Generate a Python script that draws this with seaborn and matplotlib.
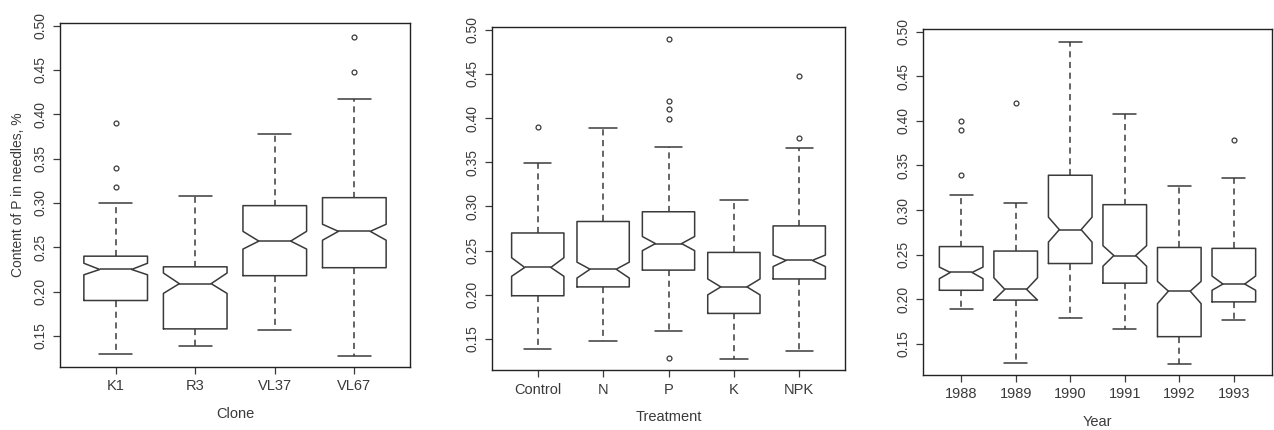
import numpy as np
import seaborn as sns
import matplotlib.pyplot as plt

# values (P content in needles, %)
clones = ["K1", "R3", "VL37", "VL67"]
clone_whislo = [0.13, 0.139, 0.157, 0.127]
clone_q1 = [0.19, 0.158, 0.218, 0.227]
clone_med = [0.225, 0.209, 0.257, 0.268]
clone_q3 = [0.24, 0.228, 0.297, 0.306]
clone_whishi = [0.30, 0.308, 0.378, 0.417]
clone_cilo = [0.219, 0.198, 0.248, 0.258]
clone_cihi = [0.232, 0.221, 0.268, 0.276]
clone_fliers = [[0.39, 0.339, 0.318], [], [], [0.487, 0.448]]

treatments = ["Control", "N", "P", "K", "NPK"]
treat_whislo = [0.139, 0.148, 0.159, 0.128, 0.137]
treat_q1 = [0.199, 0.209, 0.228, 0.179, 0.218]
treat_med = [0.231, 0.229, 0.258, 0.209, 0.239]
treat_q3 = [0.270, 0.283, 0.294, 0.248, 0.278]
treat_whishi = [0.349, 0.389, 0.367, 0.307, 0.366]
treat_cilo = [0.221, 0.219, 0.250, 0.200, 0.232]
treat_cihi = [0.242, 0.237, 0.266, 0.218, 0.245]
treat_fliers = [[0.39], [], [0.489, 0.419, 0.410, 0.399, 0.129], [], [0.448, 0.378]]

years = ["1988", "1989", "1990", "1991", "1992", "1993"]
year_whislo = [0.189, 0.128, 0.179, 0.167, 0.127, 0.177]
year_q1 = [0.210, 0.199, 0.240, 0.218, 0.158, 0.197]
year_med = [0.230, 0.211, 0.278, 0.249, 0.209, 0.217]
year_q3 = [0.259, 0.254, 0.339, 0.306, 0.258, 0.257]
year_whishi = [0.317, 0.308, 0.488, 0.408, 0.327, 0.336]
year_cilo = [0.223, 0.199, 0.264, 0.237, 0.195, 0.210]
year_cihi = [0.236, 0.224, 0.292, 0.260, 0.220, 0.226]
year_fliers = [[0.40, 0.39, 0.339], [0.42], [], [], [], [0.379]]

sns.set_style("ticks")
plt.rcParams["font.family"] = ["Liberation Sans", "DejaVu Sans"]

ink = "#3a3a3a"


def make_stats(lo, q1, med, q3, hi, cilo, cihi, fl):
    out = []
    for i in range(len(med)):
        out.append(dict(whislo=lo[i], q1=q1[i], med=med[i], q3=q3[i], whishi=hi[i],
                        cilo=cilo[i], cihi=cihi[i], fliers=np.array(fl[i])))
    return out


def draw(ax, stats, labels, xlabel):
    n = len(labels)
    ax.bxp(stats, positions=range(1, n + 1), widths=0.8, shownotches=True,
           boxprops=dict(color=ink, lw=1.1),
           medianprops=dict(color=ink, lw=1.1),
           whiskerprops=dict(color=ink, lw=1.1, linestyle=(0, (4, 3))),
           capprops=dict(color=ink, lw=1.1),
           flierprops=dict(marker="o", markersize=3.5, markerfacecolor="none",
                           markeredgecolor=ink, markeredgewidth=0.9),
           capwidths=0.42)
    ax.set_xlim(0.3, n + 0.7)
    ax.set_ylim(0.115, 0.503)
    ax.set_xticks(range(1, n + 1))
    ax.set_xticklabels(labels, fontsize=10.5, color=ink)
    ax.set_yticks(np.arange(0.15, 0.501, 0.05))
    ax.set_yticklabels(["%.2f" % v for v in np.arange(0.15, 0.501, 0.05)],
                       rotation=90, va="center", fontsize=10, color=ink)
    ax.set_xlabel(xlabel, fontsize=10.5, color=ink, labelpad=10)
    ax.tick_params(length=5, width=0.9, color=ink, pad=4)
    for s in ax.spines.values():
        s.set_visible(True)
        s.set_color("#222222")
        s.set_linewidth(1.0)


fig = plt.figure(figsize=(12.74, 4.3), dpi=100)
ax1 = fig.add_axes([60 / 1274, 1 - 367 / 430, 350 / 1274, 344 / 430])
ax2 = fig.add_axes([492 / 1274, 1 - 370 / 430, 353 / 1274, 343 / 430])
ax3 = fig.add_axes([923 / 1274, 1 - 375 / 430, 349 / 1274, 346 / 430])

draw(ax1, make_stats(clone_whislo, clone_q1, clone_med, clone_q3, clone_whishi,
                     clone_cilo, clone_cihi, clone_fliers), clones, "Clone")
draw(ax2, make_stats(treat_whislo, treat_q1, treat_med, treat_q3, treat_whishi,
                     treat_cilo, treat_cihi, treat_fliers), treatments, "Treatment")
draw(ax3, make_stats(year_whislo, year_q1, year_med, year_q3, year_whishi,
                     year_cilo, year_cihi, year_fliers), years, "Year")

ax1.set_ylabel("Content of P in needles, %", fontsize=10, color=ink, labelpad=6)

fig.savefig("out.png", dpi=100, facecolor="white")
